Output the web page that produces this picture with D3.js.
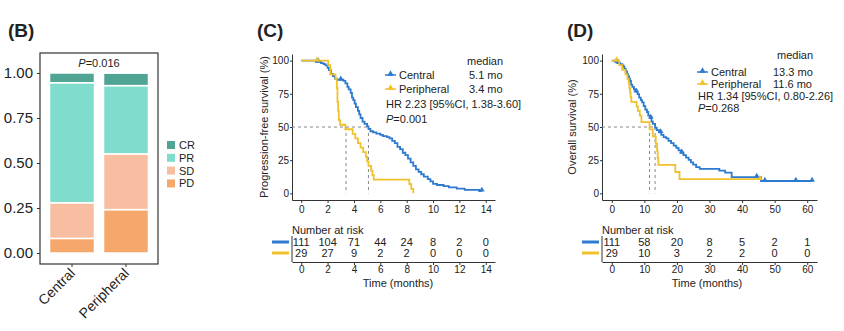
<!DOCTYPE html>
<html>
<head>
<meta charset="utf-8">
<script src="https://cdn.jsdelivr.net/npm/d3@7"></script>
<style>
body { margin: 0; background: #fff; }
svg { font-family: "Liberation Sans", Arial, sans-serif; }
</style>
</head>
<body>
<svg width="844" height="331"></svg>
<script>
// ---- panel B data (proportions) ----
var groups = ["Central", "Peripheral"]
var responses = ["PD", "SD", "PR", "CR"]
var centralResp = [0.081, 0.198, 0.667, 0.054]
var peripheralResp = [0.241, 0.310, 0.379, 0.069]
var respColors = { CR: "#50a493", PR: "#80dccd", SD: "#f8bea2", PD: "#f6a76c" }

// ---- panel C: progression-free survival (time, survival %) ----
var pfsCentral = [[0,100],[1.1,99.1],[1.5,98.2],[1.7,97.3],[1.85,96.4],[2.0,94.6],[2.1,92.8],[2.25,90.1],
  [2.4,88.3],[2.55,86.5],[2.7,85.6],[3.2,84.7],[3.35,82.9],[3.5,80.2],[3.6,78.4],[3.75,75.7],[3.85,72.1],
  [3.95,70.3],[4.05,67.6],[4.15,64.9],[4.3,62.2],[4.4,59.5],[4.5,56.8],[4.65,54.1],[4.8,52.3],[5.0,50.5],
  [5.1,48.6],[5.25,46.8],[5.45,45.9],[5.7,45.0],[6.0,44.1],[6.2,43.2],[6.5,42.3],[6.7,41.4],[6.9,39.6],
  [7.1,37.8],[7.3,35.1],[7.5,33.3],[7.7,30.6],[7.9,28.8],[8.1,26.1],[8.3,23.4],[8.5,20.7],[8.7,18.0],
  [8.9,16.2],[9.1,14.4],[9.3,12.6],[9.6,10.8],[9.8,9.0],[10.0,7.2],[10.3,6.3],[10.8,5.4],[11.2,4.5],
  [11.8,3.6],[12.4,2.7],[13.5,1.8]]
var pfsCentralEnd = 13.7
var pfsPeripheral = [[0,100],[2.05,96.6],[2.2,89.7],[2.6,86.2],[2.7,79.3],[2.75,69.0],[2.8,62.1],[2.85,55.2],
  [2.95,51.7],[3.35,48.3],[3.9,44.8],[4.1,41.4],[4.3,37.9],[4.5,34.5],[4.7,31.0],[4.9,27.6],[5.0,24.1],
  [5.1,20.7],[5.3,17.2],[5.4,13.8],[5.5,10.3],[8.2,6.9],[8.35,3.4],[8.5,0]]
var pfsPeripheralEnd = 8.5
var pfsCensorCentral = [1.3, 3.0, 13.7]
var pfsCensorPeripheral = [1.2]
var pfsTicks = [0, 2, 4, 6, 8, 10, 12, 14]
var pfsRiskCentral = [111, 104, 71, 44, 24, 8, 2, 0]
var pfsRiskPeripheral = [29, 27, 9, 2, 2, 0, 0, 0]

// ---- panel D: overall survival ----
var osCentral = [[0,100],[1.0,99.1],[1.9,98.2],[2.6,97.3],[3.2,96.4],[3.6,95.5],[3.9,93.7],[4.3,91.9],
  [4.7,90.1],[5.0,88.3],[5.3,86.5],[5.6,84.7],[5.9,82.0],[6.3,80.2],[6.8,78.4],[7.3,76.6],[7.9,74.8],
  [8.4,72.1],[8.9,70.3],[9.3,68.5],[9.8,65.8],[10.3,63.1],[10.8,61.3],[11.2,58.6],[11.7,56.8],[12.2,54.1],
  [12.6,52.3],[13.3,49.5],[13.8,47.7],[14.5,45.9],[15.2,44.1],[15.9,42.3],[16.7,41.4],[17.4,39.6],
  [18.2,37.8],[19.0,36.0],[19.8,34.2],[20.5,32.4],[21.2,30.6],[22.0,28.8],[22.8,27.0],[23.6,25.2],
  [24.3,23.4],[25.0,21.6],[25.9,19.8],[27.0,18.5],[33.0,17.1],[34.8,15.6],[36.8,12.3],[45.8,9.3]]
var osCentralEnd = 61.5
var osPeripheral = [[0,100],[2.3,96.6],[3.2,93.1],[4.2,89.7],[4.8,86.2],[5.2,82.8],[5.4,79.3],[5.6,75.9],
  [5.8,72.4],[6.0,69.0],[7.6,65.5],[8.0,62.1],[8.6,58.6],[9.1,53.6],[11.6,48.2],[12.6,42.9],[13.5,37.5],
  [13.9,32.2],[14.1,26.8],[14.3,21.4],[19.5,16.1],[20.8,10.7]]
var osPeripheralEnd = 45.8
var osCensorCentral = [2.0, 7.5, 12.0, 15.0, 21.5, 44.5, 47.0, 56.5, 61.5]
var osCensorPeripheral = [1.5, 45.5]
var osTicks = [0, 10, 20, 30, 40, 50, 60]
var osRiskCentral = [111, 58, 20, 8, 5, 2, 1]
var osRiskPeripheral = [29, 10, 3, 2, 2, 0, 0]

var blue = "#2d7ad0"
var yellow = "#efc12b"
var ink = "#222"

var svg = d3.select("svg")

// ================= panel B =================
svg.append("text").attr("x", 8).attr("y", 37).attr("font-size", 19).attr("font-weight", "bold")
    .attr("fill", ink).text("(B)")

var bx = d3.scaleBand().domain(groups).range([40, 158]).paddingInner(0.1667).paddingOuter(0.176)
var by = d3.scaleLinear().domain([0, 1]).range([253, 73])

var rows = groups.map(function(gname, i) {
    var vals = i == 0 ? centralResp : peripheralResp
    var r = { group: gname }
    responses.forEach(function(k, j) { r[k] = vals[j] })
    return r
})
var stacked = d3.stack().keys(responses)(rows)

var gB = svg.append("g")
stacked.forEach(function(layer) {
    gB.selectAll(null).data(layer).enter().append("rect")
        .attr("x", d => bx(d.data.group))
        .attr("width", bx.bandwidth())
        .attr("y", d => by(d[1]))
        .attr("height", d => by(d[0]) - by(d[1]))
        .attr("fill", respColors[layer.key])
        .attr("stroke", "#fff")
        .attr("stroke-width", 1.5)
})

gB.append("rect").attr("x", 40).attr("y", 53).attr("width", 118).attr("height", 211)
    .attr("fill", "none").attr("stroke", "#333").attr("stroke-width", 1.2)

var yAxisB = d3.axisLeft(by).tickValues([0, 0.25, 0.5, 0.75, 1]).tickFormat(d3.format(".2f"))
    .tickSize(3).tickPadding(4)
gB.append("g").attr("transform", "translate(40,0)").call(yAxisB)
    .call(a => a.select(".domain").remove())
    .call(a => a.selectAll("line").attr("stroke", "#333"))
    .call(a => a.selectAll("text").attr("font-size", 15).attr("fill", ink)
        .attr("font-family", "Liberation Sans, Arial, sans-serif"))

groups.forEach(function(gname) {
    gB.append("line").attr("x1", bx(gname) + bx.bandwidth() / 2).attr("x2", bx(gname) + bx.bandwidth() / 2)
        .attr("y1", 264).attr("y2", 267).attr("stroke", "#333")
    gB.append("text")
        .attr("transform", "translate(" + (bx(gname) + bx.bandwidth() / 2 + 4) + ",274) rotate(-45)")
        .attr("text-anchor", "end").attr("font-size", 14).attr("fill", ink).text(gname)
})

var pB = gB.append("text").attr("x", 99).attr("y", 67).attr("text-anchor", "middle")
    .attr("font-size", 11).attr("fill", ink)
pB.append("tspan").attr("font-style", "italic").text("P")
pB.append("tspan").text("=0.016")

var legB = ["CR", "PR", "SD", "PD"]
legB.forEach(function(k, i) {
    var cy = 145 + i * 12.8
    gB.append("rect").attr("x", 167).attr("y", cy - 4).attr("width", 8).attr("height", 8)
        .attr("fill", respColors[k])
    gB.append("text").attr("x", 179).attr("y", cy + 4).attr("font-size", 11).attr("fill", ink).text(k)
})

// ================= KM panels =================
function survAt(steps, t) {
    var s = steps[0][1]
    steps.forEach(function(p) { if (p[0] <= t) s = p[1] })
    return s
}

function drawKM(p) {
    var g = svg.append("g")
    var x = d3.scaleLinear().domain(p.xDomain).range(p.xRange)
    var y = d3.scaleLinear().domain([-5, 105]).range([200, 54])
    var x0 = p.xRange[0]

    g.append("text").attr("x", p.labelX).attr("y", 37).attr("font-size", 19).attr("font-weight", "bold")
        .attr("fill", ink).text(p.label)

    // axes
    var styleAxis = function(a) {
        a.selectAll("path, line").attr("stroke", "#333")
        a.selectAll("text").attr("font-size", 10).attr("fill", ink)
            .attr("font-family", "Liberation Sans, Arial, sans-serif")
    }
    g.append("g").attr("transform", "translate(0,200)")
        .call(d3.axisBottom(x).tickValues(p.ticks).tickSize(3).tickSizeOuter(0).tickPadding(3))
        .call(styleAxis)
    g.append("g").attr("transform", "translate(" + x0 + ",0)")
        .call(d3.axisLeft(y).tickValues([0, 25, 50, 75, 100]).tickSize(2).tickSizeOuter(0).tickPadding(1))
        .call(styleAxis)

    g.append("text")
        .attr("transform", "translate(" + p.yTitleX + ",127) rotate(-90)")
        .attr("text-anchor", "middle").attr("font-size", 11).attr("fill", ink).text(p.yTitle)

    // median lines
    var dash = function(x1, y1, x2, y2) {
        g.append("line").attr("x1", x1).attr("y1", y1).attr("x2", x2).attr("y2", y2)
            .attr("stroke", "#888").attr("stroke-width", 1).attr("stroke-dasharray", "3,3")
    }
    dash(x0, y(50), x(d3.max(p.medians)), y(50))
    p.medians.forEach(m => dash(x(m), y(50), x(m), y(0)))

    // curves
    var line = d3.line().x(d => x(d[0])).y(d => y(d[1])).curve(d3.curveStepAfter)
    p.series.forEach(function(s) {
        var pts = s.steps.concat([[s.end, s.steps[s.steps.length - 1][1]]])
        g.append("path").datum(pts).attr("d", line).attr("fill", "none")
            .attr("stroke", s.color).attr("stroke-width", 1.8)
        g.selectAll(null).data(s.censor).enter().append("path")
            .attr("d", d3.symbol().type(d3.symbolTriangle).size(14))
            .attr("transform", d => "translate(" + x(d) + "," + (y(survAt(s.steps, d)) - 1) + ")")
            .attr("fill", s.color)
    })

    // legend
    var L = p.legend
    g.append("text").attr("x", L.medianX).attr("y", L.rows[0] + 4).attr("font-size", 11).attr("fill", ink).text("median")
    p.series.forEach(function(s, i) {
        var cy = L.rows[i + 1]
        g.append("line").attr("x1", L.x).attr("x2", L.x + 11).attr("y1", cy).attr("y2", cy)
            .attr("stroke", s.color).attr("stroke-width", 1.5)
        g.append("path").attr("d", d3.symbol().type(d3.symbolTriangle).size(18))
            .attr("transform", "translate(" + (L.x + 5.5) + "," + (cy - 1) + ")").attr("fill", s.color)
        g.append("text").attr("x", L.x + 14).attr("y", cy + 4).attr("font-size", 11).attr("fill", ink).text(s.name)
        g.append("text").attr("x", L.valX).attr("y", cy + 4).attr("font-size", 11).attr("fill", ink).text(s.median)
    })
    g.append("text").attr("x", L.x + 1).attr("y", L.rows[3] + 4).attr("font-size", 11).attr("fill", ink).text(p.hr)
    var pt = g.append("text").attr("x", L.x + 1).attr("y", L.rows[4] + 4).attr("font-size", 11).attr("fill", ink)
    pt.append("tspan").attr("font-style", "italic").text("P")
    pt.append("tspan").text(p.pval)

    // risk table
    g.append("text").attr("x", x0).attr("y", 234).attr("font-size", 11).attr("fill", ink).text("Number at risk")
    g.append("g").attr("transform", "translate(0,262)")
        .call(d3.axisBottom(x).tickValues(p.ticks).tickSize(3).tickSizeOuter(0).tickPadding(1))
        .call(styleAxis)
    g.append("line").attr("x1", x0).attr("x2", x0).attr("y1", 236).attr("y2", 262).attr("stroke", "#333")
    p.series.forEach(function(s, i) {
        var cy = 242 + i * 11
        g.append("line").attr("x1", x0 - 20).attr("x2", x0 - 3).attr("y1", cy).attr("y2", cy)
            .attr("stroke", s.color).attr("stroke-width", 3)
        g.selectAll(null).data(s.risk).enter().append("text")
            .attr("x", (d, j) => x(p.ticks[j])).attr("y", cy + 4)
            .attr("text-anchor", "middle").attr("font-size", 11).attr("fill", ink).text(d => d)
    })
    g.append("text").attr("x", p.timeX).attr("y", 287)
        .attr("text-anchor", "middle").attr("font-size", 11).attr("fill", ink).text("Time (months)")
}

drawKM({
    label: "(C)", labelX: 257,
    xDomain: [-0.7, 14.7], xRange: [292, 495], ticks: pfsTicks,
    yTitle: "Progression-free survival (%)", yTitleX: 268,
    medians: [3.4, 5.1],
    hr: "HR 2.23 [95%CI, 1.38-3.60]", pval: "=0.001", timeX: 398,
    legend: { x: 385, medianX: 467, valX: 469, rows: [61, 75, 89, 104, 119] },
    series: [
        { name: "Central", median: "5.1 mo", color: blue, steps: pfsCentral, end: pfsCentralEnd,
          censor: pfsCensorCentral, risk: pfsRiskCentral },
        { name: "Peripheral", median: "3.4 mo", color: yellow, steps: pfsPeripheral, end: pfsPeripheralEnd,
          censor: pfsCensorPeripheral, risk: pfsRiskPeripheral }
    ]
})

drawKM({
    label: "(D)", labelX: 567,
    xDomain: [-3, 63], xRange: [602, 817], ticks: osTicks,
    yTitle: "Overall survival (%)", yTitleX: 576,
    medians: [11.6, 13.3],
    hr: "HR 1.34 [95%CI, 0.80-2.26]", pval: "=0.268", timeX: 707,
    legend: { x: 697, medianX: 777, valX: 773, rows: [55, 72, 84, 96, 108] },
    series: [
        { name: "Central", median: "13.3 mo", color: blue, steps: osCentral, end: osCentralEnd,
          censor: osCensorCentral, risk: osRiskCentral },
        { name: "Peripheral", median: "11.6 mo", color: yellow, steps: osPeripheral, end: osPeripheralEnd,
          censor: osCensorPeripheral, risk: osRiskPeripheral }
    ]
})
</script>
</body>
</html>
